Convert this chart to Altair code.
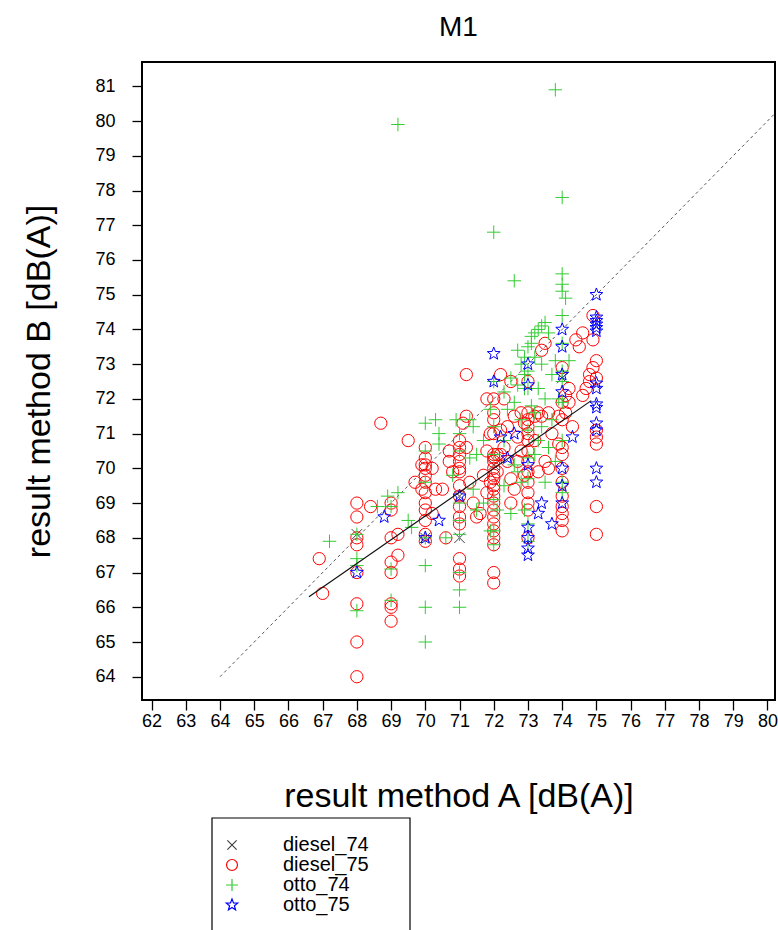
import math
import altair as alt
import pandas as pd

# ---------------- data ----------------
series_names = ["diesel_74", "diesel_75", "otto_74", "otto_75"]

diesel_74_x = [68.0, 70.0, 71.0, 71.0, 72.0, 74.0]
diesel_74_y = [68.1, 68.0, 68.0, 69.2, 70.1, 72.6]

diesel_75_cols = [
    (66.9, [67.4]),
    (67.0, [66.4]),
    (68.0, [64.0, 65.0, 66.1, 67.0, 67.8, 68.0, 68.6, 69.0]),
    (68.4, [68.9]),
    (68.7, [71.3]),
    (69.0, [69.0, 68.8, 68.0, 67.3, 67.0, 66.1, 66.0, 65.6]),
    (69.2, [68.1, 67.5]),
    (69.5, [70.8]),
    (69.7, [69.6]),
    (69.9, [69.4, 70.1]),
    (70.0, [70.6, 70.3, 70.1, 70.0, 69.8, 69.6, 69.3, 69.0, 68.8, 68.5, 68.1, 67.9]),
    (70.2, [68.7, 70.0]),
    (70.3, [69.4]),
    (70.5, [69.4]),
    (70.6, [68.0]),
    (70.7, [70.5, 70.2]),
    (70.8, [69.9]),
    (71.0, [70.8, 70.6, 70.4, 70.2, 70.0, 69.9, 69.5, 69.2, 68.9, 68.6, 68.4, 67.4, 67.1, 66.9]),
    (71.1, [71.3]),
    (71.2, [72.7, 71.5, 70.6]),
    (71.3, [69.6]),
    (71.4, [69.0]),
    (71.5, [68.6]),
    (71.6, [68.7]),
    (71.7, [69.8]),
    (71.8, [72.0, 70.5, 69.3]),
    (71.9, [71.0, 69.6]),
    (72.0, [72.0, 71.6, 71.4, 71.0, 70.4, 70.3, 70.2, 70.0, 69.8, 69.7, 69.5, 69.4,
            69.2, 69.0, 68.8, 68.6, 68.4, 68.2, 68.0, 67.8, 67.0, 66.7]),
    (72.1, [70.4, 69.9]),
    (72.2, [72.7, 71.1, 70.4]),
    (72.3, [72.0, 70.6]),
    (72.4, [71.2, 70.2]),
    (72.5, [72.5, 69.7, 69.0]),
    (72.6, [69.4, 71.5]),
    (72.7, [70.9, 70.2]),
    (72.8, [71.6, 70.5]),
    (72.9, [71.3, 69.8]),
    (73.0, [72.5, 71.6, 71.4, 71.2, 71.0, 70.8, 70.5, 70.2, 69.9, 69.6, 69.3, 69.0, 68.8, 68.0]),
    (73.2, [71.5, 70.8]),
    (73.3, [71.6, 69.9]),
    (73.4, [71.5, 73.4]),
    (73.5, [70.2, 73.6]),
    (73.6, [71.6, 70.0]),
    (73.7, [71.0]),
    (73.9, [71.5, 70.7]),
    (74.0, [72.9, 71.9, 71.4, 70.6, 70.4, 70.0, 69.6, 69.2, 68.9, 68.7, 68.5, 68.2]),
    (74.1, [72.1, 71.6]),
    (74.2, [72.3, 71.9]),
    (74.3, [71.2]),
    (74.4, [73.7]),
    (74.5, [73.5]),
    (74.6, [73.9, 72.1]),
    (74.7, [72.3]),
    (74.8, [72.7, 72.5]),
    (74.9, [74.4, 73.7, 72.9]),
    (75.0, [73.1, 72.6, 71.1, 70.9, 70.7, 68.9, 68.1]),
]

otto_74_cols = [
    (67.2, [67.9]),
    (68.0, [68.1, 67.4, 67.2, 65.9]),
    (68.6, [68.9]),
    (68.9, [69.2]),
    (69.0, [67.1, 66.2, 68.9]),
    (69.2, [79.9, 69.3]),
    (69.5, [68.5]),
    (69.6, [68.3]),
    (70.0, [71.3, 70.5, 69.6, 68.0, 67.2, 66.0, 65.0]),
    (70.3, [71.4]),
    (70.4, [71.0, 70.7]),
    (70.6, [68.0]),
    (70.8, [69.8]),
    (70.9, [71.4]),
    (71.0, [71.0, 70.5, 69.0, 68.5, 68.1, 67.0, 66.5, 66.0]),
    (71.3, [71.4, 70.3]),
    (71.4, [71.2, 69.4]),
    (71.5, [70.4, 68.8]),
    (71.7, [70.8, 69.0]),
    (71.9, [71.7, 68.2]),
    (72.0, [76.8, 72.5, 71.2, 70.4, 69.1, 68.2, 67.8]),
    (72.1, [68.8]),
    (72.3, [72.2, 70.8, 69.5]),
    (72.4, [71.7]),
    (72.5, [68.7, 72.6]),
    (72.6, [75.4, 71.9, 70.1]),
    (72.7, [72.4, 69.9, 73.4]),
    (72.8, [71.4, 69.6, 73.0]),
    (72.9, [73.2, 72.3, 68.8, 72.7]),
    (73.0, [73.5, 72.8, 71.1, 70.3, 69.7, 68.4, 67.9, 72.3]),
    (73.1, [73.6, 71.8, 73.8]),
    (73.2, [73.9, 71.6, 70.4, 73.2]),
    (73.3, [74.0, 72.3, 70.8]),
    (73.4, [73.0, 71.2, 74.1]),
    (73.5, [74.2, 72.0, 69.6]),
    (73.6, [70.6, 73.9]),
    (73.7, [72.7, 71.4]),
    (73.8, [80.9, 73.1, 70.2]),
    (73.9, [72.0]),
    (74.0, [77.8, 75.6, 75.3, 75.1, 74.4, 73.6, 72.8, 72.5, 71.9, 70.8, 69.6, 69.3]),
    (74.1, [74.9]),
    (74.2, [73.1]),
]

otto_75_cols = [
    (68.0, [67.0]),
    (68.8, [68.6]),
    (70.0, [68.0]),
    (70.4, [68.5]),
    (71.0, [69.2]),
    (72.0, [73.3, 72.5]),
    (72.2, [70.9]),
    (72.4, [70.3]),
    (72.6, [71.0]),
    (73.0, [73.0, 72.4, 70.1, 68.3, 68.0, 67.7, 67.5]),
    (73.3, [68.7]),
    (73.4, [69.0]),
    (73.7, [68.4]),
    (74.0, [74.0, 73.5, 72.7, 72.2, 70.0, 69.5, 69.0]),
    (74.3, [70.9]),
    (75.0, [75.0, 74.35, 74.25, 74.15, 74.05, 73.95, 72.45, 72.3, 71.85, 71.75,
            71.3, 71.1, 70.0, 69.6]),
]

identity_x = [64.0, 80.22]
identity_y = [64.0, 80.22]
fit_x = [66.6, 74.85]
fit_y = [66.3, 71.95]

x_ticks = list(range(62, 81))
y_ticks = list(range(64, 82))

# ---------------- build tables ----------------
rows = []
for xv, yv in zip(diesel_74_x, diesel_74_y):
    rows.append({"A": xv, "B": yv, "group": "diesel_74"})
for name, cols in [("diesel_75", diesel_75_cols), ("otto_74", otto_74_cols), ("otto_75", otto_75_cols)]:
    for xv, ys in cols:
        for yv in ys:
            rows.append({"A": xv, "B": yv, "group": name})
points = pd.DataFrame(rows)
points["order"] = points["group"].map({n: i for i, n in enumerate(series_names)})

ident = pd.DataFrame({"A": identity_x, "B": identity_y})
fit = pd.DataFrame({"A": fit_x, "B": fit_y})
legend_box = pd.DataFrame({"k": [0]})

# ---------------- symbols ----------------
star_pts = []
for i in range(10):
    r = 1.1 if i % 2 == 0 else 0.46
    a = -math.pi / 2 + i * math.pi / 5
    star_pts.append(f"{r*math.cos(a):.3f},{r*math.sin(a):.3f}")
star_path = "M" + "L".join(star_pts) + "Z"
plus_path = "M-1.1,0L1.1,0M0,-1.1L0,1.1"
x_path = "M-0.85,-0.85L0.85,0.85M-0.85,0.85L0.85,-0.85"

shape_range = [x_path, "circle", plus_path, star_path]
color_range = ["#404040", "#FF0000", "#33CC33", "#0000FF"]

FONT = "Liberation Sans"
xdom = [61.72, 80.22]
ydom = [63.33, 81.7]

xscale = alt.Scale(domain=xdom, nice=False, zero=False)
yscale = alt.Scale(domain=ydom, nice=False, zero=False)
common_axis = dict(format="d", grid=False, domain=False, labelFontSize=18, titleFontSize=34,
                   labelFont=FONT, titleFont=FONT, titleFontWeight="normal",
                   labelColor="black", titleColor="black", tickColor="black",
                   tickSize=10, tickWidth=1.3, labelFlush=False, labelOverlap=False)
xaxis = alt.Axis(values=x_ticks, title="result method A [dB(A)]",
                 titlePadding=49, labelPadding=2, **common_axis)
yaxis = alt.Axis(values=y_ticks, title="result method B [dB(A)]",
                 titlePadding=38, labelPadding=17, **common_axis)

pts = alt.Chart(points).mark_point(filled=False, strokeWidth=1, opacity=1, size=150).encode(
    x=alt.X("A:Q", scale=xscale, axis=xaxis),
    y=alt.Y("B:Q", scale=yscale, axis=yaxis),
    color=alt.Color("group:N", scale=alt.Scale(domain=series_names, range=color_range),
                    legend=alt.Legend(title=None, orient="none", legendX=80, legendY=773,
                                      padding=0, labelFontSize=20,
                                      labelFont=FONT, labelColor="black", labelOffset=41,
                                      symbolSize=120, symbolStrokeWidth=1.2, rowPadding=0,
                                      labelLimit=300)),
    shape=alt.Shape("group:N", scale=alt.Scale(domain=series_names, range=shape_range)),
    order=alt.Order("order:Q"),
)

# frame drawn around the legend (decoration, placed in pixels below the plot)
legend_frame = alt.Chart(legend_box).mark_rect(fill=None, stroke="black", strokeWidth=1.2).encode(
    x=alt.value(70), x2=alt.value(268), y=alt.value(756), y2=alt.value(900),
)

ident_line = alt.Chart(ident).mark_line(strokeDash=[3, 3], color="#555555", strokeWidth=1, clip=True).encode(
    x=alt.X("A:Q", scale=xscale, axis=xaxis),
    y=alt.Y("B:Q", scale=yscale, axis=yaxis),
)
fit_line = alt.Chart(fit).mark_line(color="#111111", strokeWidth=1.2).encode(
    x=alt.X("A:Q", scale=xscale, axis=xaxis),
    y=alt.Y("B:Q", scale=yscale, axis=yaxis),
)

chart = alt.layer(ident_line, pts, fit_line, legend_frame).properties(
    width=633, height=638,
    background="white",
    title=alt.TitleParams("M1", fontSize=28, font=FONT, fontWeight="normal", color="black",
                          anchor="middle", offset=20),
    autosize=alt.AutoSizeParams(type="none"),
    padding={"left": 142, "top": 62, "right": 3, "bottom": 230},
).configure_view(stroke="black", strokeWidth=2)

chart.save("out.html", embed_options={"renderer": "svg", "actions": False})
